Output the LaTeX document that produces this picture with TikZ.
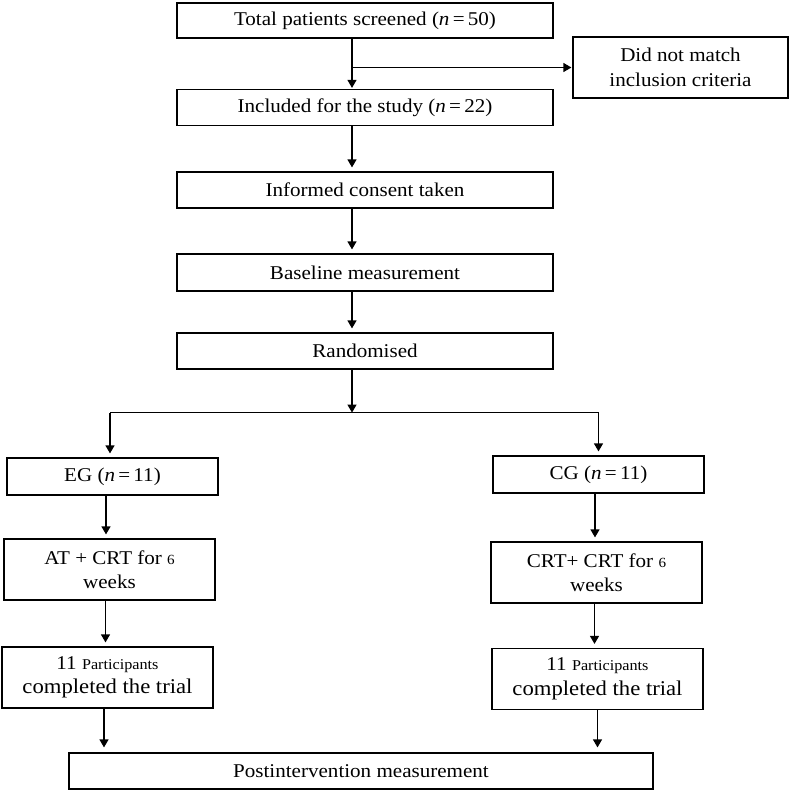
\documentclass[tikz,border=0pt]{standalone}
\usepackage{fontspec}
\setmainfont[FakeStretch=1.08]{Liberation Serif}
\usetikzlibrary{arrows.meta,calc}
\begin{document}
\begin{tikzpicture}[x=1pt,y=-1pt,
  box/.style={draw, line width=1.2pt, rectangle, inner sep=0pt, align=center,
    font=\fontsize{19.5}{24.5}\selectfont},
  arr/.style={line width=1.2pt, -{Triangle[width=9pt,length=8pt]}, shorten >=4pt},
  ln/.style={line width=1.2pt}]
\useasboundingbox (0,0) rectangle (800,792);
\node[box, minimum width=376pt, minimum height=35pt] (b1) at (365,20.5) {Total patients screened (\textit{n}\,=\,50)};
\node[box, minimum width=215pt, minimum height=61pt] (dnm) at (680.5,67.5) {Did not match\\inclusion criteria};
\node[box, minimum width=376pt, minimum height=36pt] (b2) at (365,107.5) {Included for the study (\textit{n}\,=\,22)};
\node[box, minimum width=376pt, minimum height=36pt] (b3) at (365,190) {Informed consent taken};
\node[box, minimum width=376pt, minimum height=37pt] (b4) at (365,272.5) {Baseline measurement};
\node[box, minimum width=376pt, minimum height=36pt] (b5) at (365,351) {Randomised};
\node[box, minimum width=211pt, minimum height=37pt] (eg) at (112.5,476.5) {EG (\textit{n}\,=\,11)};
\node[box, minimum width=211pt, minimum height=37pt] (cg) at (598.5,474.5) {CG (\textit{n}\,=\,11)};
\node[box, minimum width=211pt, minimum height=61pt] (at) at (109.5,569.5) {AT + CRT for {\fontsize{14}{16}\selectfont 6}\\weeks};
\node[box, minimum width=211pt, minimum height=61pt] (crt) at (596.5,572.5) {CRT+ CRT for {\fontsize{14}{16}\selectfont 6}\\weeks};
\node[box, minimum width=211pt, minimum height=61pt] (p1) at (107.5,677.5) {11 {\fontsize{15}{18}\selectfont Participants}\\{\fontsize{21}{25}\selectfont completed the trial}};
\node[box, minimum width=211pt, minimum height=61pt] (p2) at (597.5,679) {11 {\fontsize{15}{18}\selectfont Participants}\\{\fontsize{21}{25}\selectfont completed the trial}};
\node[box, minimum width=584pt, minimum height=36pt] (post) at (361,771) {Postintervention measurement};
% connectors
\coordinate (t1) at ([xshift=-13pt]b1.south);
\coordinate (sp) at (t1 |- dnm.west);
\draw[arr, shorten >=1pt] (t1) -- (t1 |- b2.north);
\draw[arr, shorten >=1pt] (sp) -- (dnm.west);
\coordinate (t2) at ([xshift=-13pt]b2.south);
\draw[arr] (t2) -- (t2 |- b3.north);
\coordinate (t3) at ([xshift=-13pt]b3.south);
\draw[arr] (t3) -- (t3 |- b4.north);
\coordinate (t4) at ([xshift=-13pt]b4.south);
\draw[arr] (t4) -- (t4 |- b5.north);
\coordinate (t5) at ([xshift=-13pt]b5.south);
\coordinate (mid) at ($(t5)+(0,43)$);
\coordinate (lt) at ([xshift=-2.5pt]eg.north |- mid);
\coordinate (rt) at (cg.north |- mid);
\draw[arr, shorten >=0pt] (t5) -- (mid);
\draw[ln] (lt) -- (rt);
\draw[arr] (lt) -- (lt |- eg.north);
\draw[arr] (rt) -- (rt |- cg.north);
\coordinate (l1) at ([xshift=-6.5pt]eg.south);
\draw[arr] (l1) -- (l1 |- at.north);
\coordinate (r1) at ([xshift=-3.5pt]cg.south);
\draw[arr] (r1) -- (r1 |- crt.north);
\coordinate (l2) at ([xshift=-4pt]at.south);
\draw[arr] (l2) -- (l2 |- p1.north);
\coordinate (r2) at ([xshift=-2pt]crt.south);
\draw[arr] (r2) -- (r2 |- p2.north);
\coordinate (l3) at ([xshift=-3.5pt]p1.south);
\draw[arr, shorten >=5pt] (l3) -- (l3 |- post.north);
\coordinate (r3) at (p2.south);
\draw[arr, shorten >=5pt] (r3) -- (r3 |- post.north);
\end{tikzpicture}
\end{document}
